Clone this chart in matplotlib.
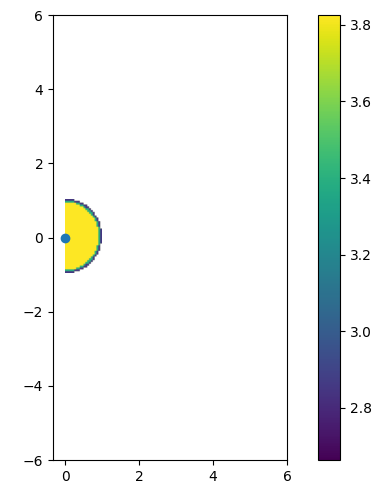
import numpy as np
import matplotlib
matplotlib.use("Agg")
import matplotlib.pyplot as plt

# grid of the half-disk field (cell counts and extent)
nx, ny = 20, 40
field_extent = [0.0, 1.0, -0.95, 1.03]
# radial bands (outer radius of band) and the value inside each band
ring_radii = [0.91, 0.955, 1.0]
ring_values = [3.826, 3.4, 2.85]
value_range = [2.663, 3.826]
# the marker at the origin
point_x = [0.0]
point_y = [0.0]

xc = field_extent[0] + (np.arange(nx) + 0.5) * (field_extent[1] - field_extent[0]) / nx
yc = field_extent[2] + (np.arange(ny) + 0.5) * (field_extent[3] - field_extent[2]) / ny
X, Y = np.meshgrid(xc, yc)
R = np.hypot(X, Y - 0.04)
field = np.full(R.shape, np.nan)
for rad, val in zip(ring_radii[::-1], ring_values[::-1]):
    field[R <= rad] = val
field = np.ma.masked_invalid(field)

fig = plt.figure(figsize=(3.8, 4.88), dpi=100)
ax = fig.add_axes([53 / 380, 28 / 488, 234 / 380, 445 / 488])
cax = fig.add_axes([318 / 380, 28 / 488, 22 / 380, 445 / 488])

im = ax.imshow(field, origin="lower", extent=field_extent, cmap="viridis",
               vmin=value_range[0], vmax=value_range[1], aspect="auto")
ax.scatter(point_x, point_y, zorder=3)
ax.set_xlim(-0.336, 6)
ax.set_ylim(-6, 6)
ax.set_xticks([0, 2, 4, 6])
ax.set_yticks([-6, -4, -2, 0, 2, 4, 6])

fig.colorbar(im, cax=cax)
fig.savefig("out.png", dpi=100)
